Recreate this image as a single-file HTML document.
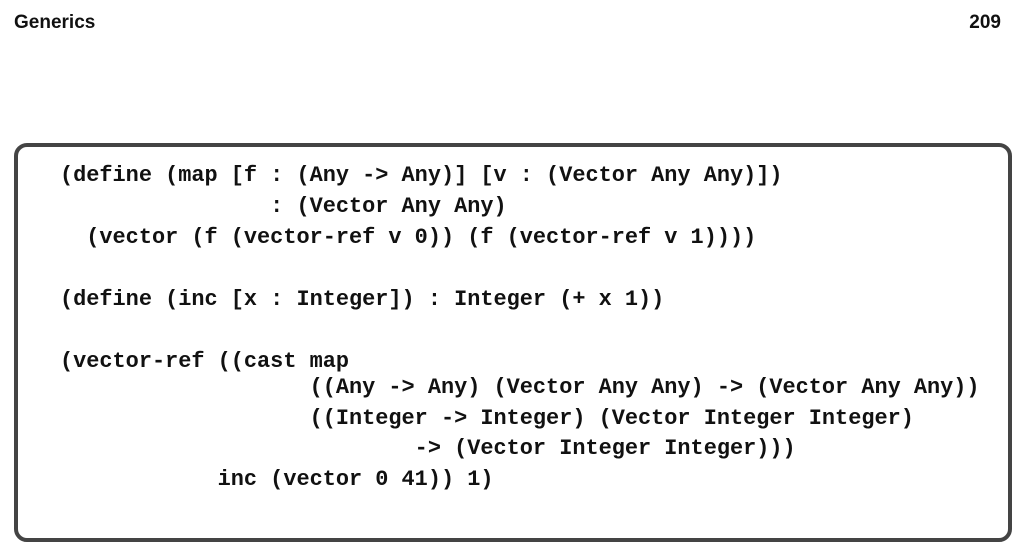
<!DOCTYPE html>
<html><head><meta charset="utf-8"><style>
html,body{margin:0;padding:0;background:#fff;width:1025px;height:555px;overflow:hidden;position:relative}
.h{position:absolute;top:12px;font-family:"Liberation Sans",sans-serif;font-weight:bold;font-size:19px;color:#111}
.box{position:absolute;left:14px;top:143px;width:990px;height:391px;border:4px solid #444;border-radius:13px}
.l{position:absolute;left:60px;font-family:"Liberation Mono",monospace;font-size:21.9px;line-height:30px;white-space:pre;color:#111;font-weight:bold}
</style></head><body>
<div class="h" style="left:14px">Generics</div>
<div class="h" style="right:24px">209</div>
<div class="box"></div>
<div class="l" style="top:161px">(define (map [f : (Any -&gt; Any)] [v : (Vector Any Any)])</div>
<div class="l" style="top:192px">                : (Vector Any Any)</div>
<div class="l" style="top:223px">  (vector (f (vector-ref v 0)) (f (vector-ref v 1))))</div>
<div class="l" style="top:285px">(define (inc [x : Integer]) : Integer (+ x 1))</div>
<div class="l" style="top:347px">(vector-ref ((cast map</div>
<div class="l" style="top:373px">                   ((Any -&gt; Any) (Vector Any Any) -&gt; (Vector Any Any))</div>
<div class="l" style="top:404px">                   ((Integer -&gt; Integer) (Vector Integer Integer)</div>
<div class="l" style="top:434px">                           -&gt; (Vector Integer Integer)))</div>
<div class="l" style="top:465px">            inc (vector 0 41)) 1)</div>
</body></html>
